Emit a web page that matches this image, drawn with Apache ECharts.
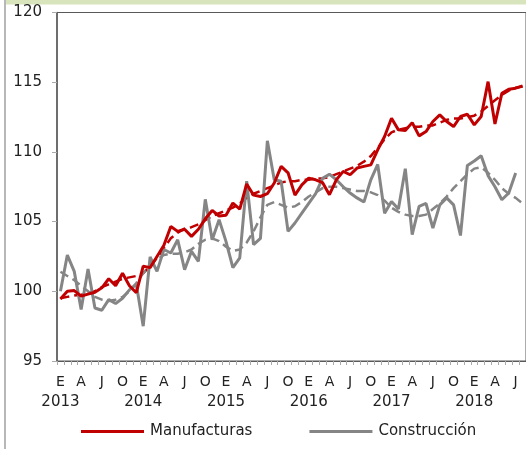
<!DOCTYPE html>
<html>
<head>
<meta charset="utf-8">
<script src="https://cdn.jsdelivr.net/npm/echarts@6/dist/echarts.min.js"></script>
<style>
  html, body { margin: 0; padding: 0; background: #fff; }
  #chart { width: 526px; height: 449px; }
</style>
</head>
<body>
<div id="chart"></div>
<script>
// meses: enero 2013 .. agosto 2018
var monthLetters = ['E', 'F', 'M', 'A', 'M', 'J', 'J', 'A', 'S', 'O', 'N', 'D'];
var years = [2013, 2014, 2015, 2016, 2017, 2018];
var months = [];
for (var y = 0; y < years.length; y++) {
    for (var m = 0; m < 12; m++) {
        if (years[y] === 2018 && m > 7) break;
        months.push(years[y] + '-' + (m + 1));
    }
}

var manufacturas = [
    99.45, 100.0, 100.05, 99.65, 99.8, 99.93, 100.25, 100.9, 100.4, 101.3, 100.4, 99.9,
    101.8, 101.7, 102.5, 103.3, 104.65, 104.3, 104.45, 103.94, 104.45, 105.2, 105.8, 105.4,
    105.45, 106.33, 105.9, 107.7, 106.9, 106.8, 107.0, 107.77, 108.96, 108.5, 106.9, 107.64,
    108.12, 108.0, 107.8, 106.93, 108.0, 108.6, 108.36, 108.84, 108.96, 109.07, 110.15, 111.1,
    112.42, 111.58, 111.53, 112.1, 111.15, 111.46, 112.18, 112.66, 112.18, 111.82, 112.54, 112.7,
    111.94, 112.54, 115.04, 112.0, 114.2, 114.5, 114.57, 114.73
];
var manufTendencia = [
    99.5, 99.6, 99.7, 99.75, 99.85, 100.0, 100.3, 100.5, 100.7, 100.9, 101.0, 101.1,
    101.3, 101.8, 102.4, 103.1, 103.8, 104.2, 104.5, 104.6, 104.8, 105.1, 105.4, 105.6,
    105.8, 106.0, 106.3, 106.7, 107.0, 107.2, 107.4, 107.6, 107.8, 107.9, 107.9, 108.0,
    108.0, 108.1, 108.1, 108.2, 108.4, 108.6, 108.8, 109.0, 109.3, 109.7, 110.3, 110.9,
    111.4, 111.6, 111.7, 111.8, 111.8, 111.9, 111.9, 112.1, 112.3, 112.4, 112.4, 112.5,
    112.6, 112.9, 113.3, 113.7, 114.1, 114.4, 114.6, 114.7
];
var construccion = [
    100.0, 102.6, 101.43, 98.7, 101.6, 98.8, 98.64, 99.4, 99.12, 99.5, 100.1, 100.5,
    97.5, 102.46, 101.43, 103.0, 102.75, 103.7, 101.55, 102.87, 102.15, 106.6, 103.7, 105.14,
    103.58, 101.7, 102.4, 107.9, 103.35, 103.8, 110.8, 108.0, 107.9, 104.3, 104.9, 105.6,
    106.3, 107.0, 108.1, 108.4, 108.0, 107.5, 107.05, 106.7, 106.4, 108.0, 109.1, 105.6,
    106.45, 105.9, 108.8, 104.06, 106.1, 106.3, 104.54, 106.2, 106.7, 106.2, 104.0, 109.03,
    109.35, 109.72, 108.3, 107.5, 106.57, 107.05, 108.48, null
];
var construTendencia = [
    101.4, 101.1, 100.8, 100.4, 100.0, 99.6, 99.4, 99.3, 99.4, 99.6, 100.0, 100.6,
    101.3, 101.9, 102.3, 102.6, 102.7, 102.7, 102.8, 103.0, 103.4, 103.7, 103.8, 103.6,
    103.2, 102.9, 103.0, 103.5, 104.3, 105.3, 106.2, 106.4, 106.2, 106.0, 106.1, 106.4,
    106.8, 107.1, 107.4, 107.5, 107.5, 107.4, 107.3, 107.2, 107.2, 107.1, 106.9, 106.5,
    106.0, 105.7, 105.5, 105.4, 105.4, 105.5, 105.9, 106.3, 106.8, 107.4, 107.9, 108.4,
    108.8, 108.9, 108.5, 108.0, 107.4, 107.0, 106.7, 106.3
];

var rojo = '#c00000';
var gris = '#858585';
var fuente = 'DejaVu Sans';

var chart = echarts.init(document.getElementById('chart'));
chart.setOption({
    animation: false,
    backgroundColor: '#fff',
    textStyle: { fontFamily: fuente },
    graphic: [
        { type: 'rect', shape: { x: 6, y: 0, width: 520, height: 4.5 }, style: { fill: '#d8e4bc' } },
        { type: 'line', shape: { x1: 5, y1: 0, x2: 5, y2: 449 }, style: { stroke: '#a0a0a0', lineWidth: 1.5 } }
    ],
    grid: {
        left: 57, right: -2, top: 12.5, bottom: 88,
        show: true, borderColor: '#595959', borderWidth: 1, backgroundColor: 'transparent'
    },
    legend: {
        data: ['Manufacturas', 'Construcción'],
        left: 81, top: 424, padding: 0,
        icon: 'rect',
        itemWidth: 63, itemHeight: 3,
        itemGap: 57,
        textStyle: { fontFamily: fuente, fontSize: 15, color: '#222', padding: [0, 0, 0, 1] }
    },
    xAxis: [
        {
            type: 'category',
            data: months,
            boundaryGap: true,
            axisLine: { lineStyle: { color: '#595959', width: 1 } },
            axisTick: { show: true, interval: 0, length: 4, lineStyle: { color: '#aaa' } },
            axisLabel: {
                interval: function (i) { return i % 3 === 0; },
                hideOverlap: false,
                margin: 14,
                fontFamily: fuente, fontSize: 14, color: '#222',
                formatter: function (v) {
                    return monthLetters[parseInt(v.split('-')[1], 10) - 1];
                }
            },
            splitLine: { show: false }
        },
        {
            // fila de años
            type: 'category',
            data: months,
            position: 'bottom',
            boundaryGap: true,
            axisLine: { show: false },
            axisTick: { show: false },
            axisLabel: {
                interval: function (i) { return i % 12 === 0; },
                hideOverlap: false,
                margin: 34,
                fontFamily: fuente, fontSize: 15, color: '#222',
                formatter: function (v) { return v.split('-')[0]; }
            },
            splitLine: { show: false }
        }
    ],
    yAxis: {
        type: 'value',
        min: 95, max: 120, interval: 5,
        axisLine: { show: true, lineStyle: { color: '#595959', width: 1.5 } },
        axisTick: { show: true, length: 5, lineStyle: { color: '#aaa' } },
        axisLabel: { margin: 15, fontFamily: fuente, fontSize: 15, color: '#222' },
        splitLine: { show: false }
    },
    series: [
        {
            name: 'Manufacturas tendencia', type: 'line', data: manufTendencia,
            showSymbol: false, silent: true, z: 2,
            lineStyle: { color: rojo, width: 2.5, type: [9, 5] }
        },
        {
            name: 'Construcción tendencia', type: 'line', data: construTendencia,
            showSymbol: false, silent: true, z: 2,
            lineStyle: { color: gris, width: 2.5, type: [9, 5] }
        },
        {
            name: 'Construcción', type: 'line', data: construccion,
            showSymbol: false, z: 3, itemStyle: { color: gris },
            lineStyle: { color: gris, width: 3 }
        },
        {
            name: 'Manufacturas', type: 'line', data: manufacturas,
            showSymbol: false, z: 4, itemStyle: { color: rojo },
            lineStyle: { color: rojo, width: 3 }
        }
    ]
});
</script>
</body>
</html>
